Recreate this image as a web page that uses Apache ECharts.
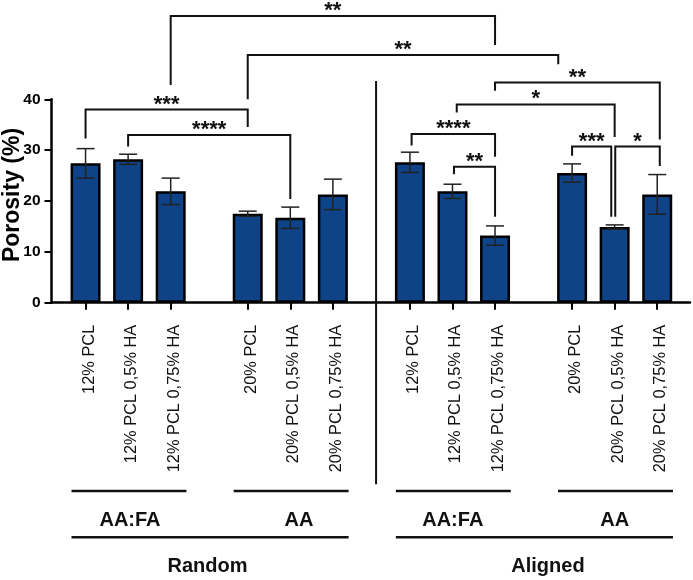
<!DOCTYPE html>
<html><head><meta charset="utf-8">
<script src="https://cdn.jsdelivr.net/npm/echarts@6/dist/echarts.min.js"></script>
<style>html,body{margin:0;padding:0;background:#fff}#c{width:693px;height:580px}</style>
</head><body><div id="c"></div>
<script>
// ---- data ----
const categories = ['12% PCL','12% PCL 0,5% HA','12% PCL 0,75% HA','20% PCL','20% PCL 0,5% HA','20% PCL 0,75% HA',
                    '12% PCL','12% PCL 0,5% HA','12% PCL 0,75% HA','20% PCL','20% PCL 0,5% HA','20% PCL 0,75% HA'];
const porosity = [27.4, 28.2, 21.9, 17.5, 16.7, 21.3, 27.6, 21.9, 13.2, 25.5, 14.9, 21.3];
const sd       = [2.9, 1.0, 2.6, 0.5, 2.1, 3.0, 2.0, 1.4, 1.9, 1.8, 0.4, 3.9];
const yTicks = [0, 10, 20, 30, 40];
const solventGroups = ['AA:FA', 'AA', 'AA:FA', 'AA'];
const alignmentGroups = ['Random', 'Aligned'];
// significance: [leftBar, rightBar, label]
const sigPairs = [[2, 8, '**'], [3, 9, '**'], [0, 3, '***'], [1, 4, '****'], [8, 11, '**'], [7, 10, '*'],
                  [6, 8, '****'], [7, 8, '**'], [9, 10, '***'], [10, 11, '*']];

// ---- layout ----
const GAP = 3.81;
const pos = i => (i % 3) + Math.floor(i / 3) * GAP;
// bracket geometry (y in axis units): [dxLeft, dxRight, top, leftEnd, rightEnd]
const sigGeom = [[0, 0, 56.4, 42.8, 50.7], [0, -0.325, 48.7, 40.0, 46.9], [0, 0, 38.0, 32.3, 34.55], [0, 0, 33.0, 30.7, 20.4],
                 [0, 0.06, 43.3, 41.7, 32.1], [0.1, 0, 39.0, 37.4, 32.6], [0.04, 0, 33.2, 30.9, 28.7], [0.035, 0, 26.75, 25.25, 16.9],
                 [0, -0.08, 30.7, 28.9, 16.9], [0.014, 0.06, 30.7, 16.9, 26.9]];
const FONT = 'Liberation Sans, Arial, sans-serif';

const xs = categories.map((c, i) => pos(i));
const barData = categories.map((c, i) => [pos(i), porosity[i]]);
const errData = categories.map((c, i) => [pos(i), porosity[i], sd[i]]);
const sigData = sigPairs.map((p, k) => [pos(p[0]) + sigGeom[k][0], pos(p[1]) + sigGeom[k][1], sigGeom[k][2], sigGeom[k][3], sigGeom[k][4], k]);

const chart = echarts.init(document.getElementById('c'), null, {renderer: 'canvas'});
chart.setOption({
  animation: false,
  backgroundColor: '#fff',
  grid: {left: 51.5, right: 3, top: 99.3, bottom: 277.3, containLabel: false, outerBoundsMode: 'none'},
  xAxis: {
    type: 'value', min: -0.8, max: 14.2,
    splitLine: {show: false},
    axisLine: {show: true, onZero: false, lineStyle: {color: '#000', width: 2.5}},
    axisTick: {show: true, customValues: xs, length: 7, lineStyle: {color: '#000', width: 2}},
    axisLabel: {
      customValues: xs, rotate: 90, margin: 22, fontSize: 16.4, color: '#111', fontFamily: FONT,
      verticalAlign: 'top', lineHeight: 7,
      formatter: v => { const i = xs.findIndex(x => Math.abs(x - v) < 1e-6); return i >= 0 ? categories[i] : ''; }
    }
  },
  yAxis: {
    type: 'value', min: 0, max: 40, interval: 10,
    splitLine: {show: false},
    axisLine: {show: true, onZero: false, lineStyle: {color: '#000', width: 2.5}},
    axisTick: {show: true, length: 7, lineStyle: {color: '#000', width: 2}},
    axisLabel: {fontSize: 15.5, fontWeight: 'bold', color: '#000', margin: 11, fontFamily: FONT,
      formatter: v => yTicks.includes(v) ? String(v) : ''},
    name: 'Porosity (%)', nameLocation: 'middle', nameGap: 27, nameMoveOverlap: false,
    nameTextStyle: {fontSize: 23, fontWeight: 'bold', color: '#000', fontFamily: FONT, padding: [0, 0, 0, 12]}
  },
  series: [
    {
      type: 'bar', data: barData, barWidth: 30, z: 2,
      itemStyle: {color: '#0e4388', borderColor: '#000', borderWidth: 2.5}
    },
    {
      type: 'custom', data: errData, z: 3,
      encode: {x: 0, y: 1},
      renderItem: (params, api) => {
        const x = api.value(0), v = api.value(1), e = api.value(2);
        const top = api.coord([x, v + e]), bot = api.coord([x, v - e]);
        const hw = 9;
        const st = {stroke: '#222', lineWidth: 1.5, fill: null};
        return {type: 'group', children: [
          {type: 'line', shape: {x1: top[0], y1: top[1], x2: bot[0], y2: bot[1]}, style: st},
          {type: 'line', shape: {x1: top[0] - hw, y1: top[1], x2: top[0] + hw, y2: top[1]}, style: st},
          {type: 'line', shape: {x1: bot[0] - hw, y1: bot[1], x2: bot[0] + hw, y2: bot[1]}, style: st}
        ]};
      }
    },
    {
      type: 'custom', data: sigData, z: 4, clip: false,
      encode: {x: [0, 1], y: [2, 3, 4]},
      renderItem: (params, api) => {
        const x1 = api.value(0), x2 = api.value(1), t = api.value(2), yl = api.value(3), yr = api.value(4), k = api.value(5);
        const a = api.coord([x1, yl]), b = api.coord([x1, t]), c = api.coord([x2, t]), d = api.coord([x2, yr]);
        return {type: 'group', children: [
          {type: 'polyline', shape: {points: [a, b, c, d]}, style: {stroke: '#111', lineWidth: 2, fill: null}},
          {type: 'text', style: {text: sigPairs[k][2], x: (b[0] + c[0]) / 2, y: b[1] - 5, align: 'center', verticalAlign: 'middle',
            font: 'bold 22px ' + FONT, fill: '#111'}}
        ]};
      }
    },
    {
      type: 'custom', data: [[0]], z: 4, clip: false,
      encode: {x: 0},
      renderItem: (params, api) => {
        const base = api.coord([0, 0])[1];
        const kids = [];
        const ln = (x1, x2, y) => ({type: 'line', shape: {x1: api.coord([x1, 0])[0], y1: y, x2: api.coord([x2, 0])[0], y2: y},
                                    style: {stroke: '#111', lineWidth: 2.5}});
        const tx = (s, x, y) => ({type: 'text', style: {text: s, x: api.coord([x, 0])[0], y: y, align: 'center', verticalAlign: 'middle',
                                    font: 'bold 20px ' + FONT, fill: '#111'}});
        const solvLabelX = [1.044, 5.014, 8.627, 12.43];
        for (let g = 0; g < 4; g++) {
          kids.push(ln(pos(g * 3) - 0.33, pos(g * 3 + 2) + 0.37, base + 188.3));
          kids.push(tx(solventGroups[g], solvLabelX[g], base + 217.5));
        }
        const alignLabelX = [2.865, 10.863];
        for (let a = 0; a < 2; a++) {
          kids.push(ln(pos(a * 6) - 0.33, pos(a * 6 + 5) + 0.37, base + 234.6));
          kids.push(tx(alignmentGroups[a], alignLabelX[a], base + 264));
        }
        const sepX = (pos(5) + pos(6)) / 2 + 0.11;
        const sTop = api.coord([sepX, 43.6]);
        kids.push({type: 'line', shape: {x1: sTop[0], y1: sTop[1], x2: sTop[0], y2: base + 181.6}, style: {stroke: '#111', lineWidth: 2}});
        return {type: 'group', children: kids};
      }
    }
  ]
});
</script>
</body></html>
